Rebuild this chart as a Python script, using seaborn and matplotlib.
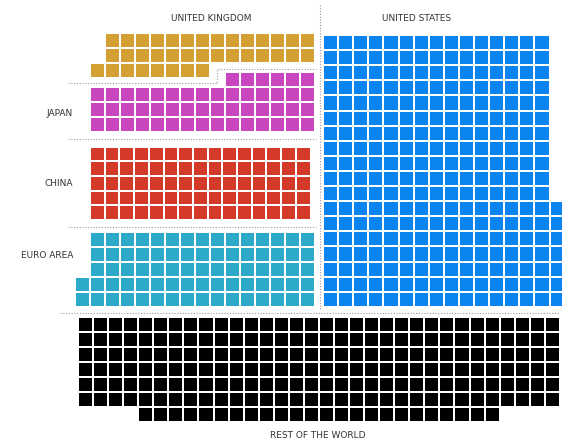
import numpy as np
import matplotlib
matplotlib.use("Agg")
import matplotlib.pyplot as plt
from matplotlib.colors import ListedColormap
import seaborn as sns

# ---- data ----
groups = ["UNITED KINGDOM", "JAPAN", "CHINA", "EURO AREA", "UNITED STATES", "REST OF THE WORLD"]
counts = [36, 51, 75, 77, 277, 216]
colors = ["#D4A033", "#C946BE", "#D33A2A", "#2BAACA", "#0A84F0", "#000000"]

# ---- layout (not data) ----
row_width = [14, 15, 15, 15, 15, 32]
extra_mode = ["row_bottom_outdent", "row_top_right", "none", "col_left_bottom",
              "col_right_bottom", "row_bottom_center"]
origin_px = [(90, 33), (90, 72), (90, 146.5), (75, 232), (323, 35), (78, 317)]
cell_px = [15.0, 15.0, 14.7, 15.0, 15.1, 15.06]

W, H = 562, 443


def waffle_matrix(count, width, mode):
    full, rem = divmod(count, width)
    if mode == "row_bottom_outdent":
        m = np.full((full + 1, width + 1), np.nan)
        m[:full, 1:] = 1
        m[full, :rem] = 1
    elif mode == "row_top_right":
        m = np.full((full + 1, width), np.nan)
        m[0, width - rem:] = 1
        m[1:, :] = 1
    elif mode == "col_left_bottom":
        m = np.full((full, width + 1), np.nan)
        m[:, 1:] = 1
        m[full - rem:, 0] = 1
    elif mode == "col_right_bottom":
        m = np.full((full, width + 1), np.nan)
        m[:, :width] = 1
        m[full - rem:, width] = 1
    elif mode == "row_bottom_center":
        m = np.full((full + 1, width), np.nan)
        m[:full, :] = 1
        pad = (width - rem) // 2
        m[full, pad:pad + rem] = 1
    else:
        m = np.ones((full, width))
    return m


sns.set_theme(style="white")
plt.rcParams["font.family"] = ["DejaVu Sans"]

fig = plt.figure(figsize=(W / 100, H / 100), dpi=100)
bg = fig.add_axes([0, 0, 1, 1])
bg.set_xlim(0, W)
bg.set_ylim(H, 0)
bg.set_axis_off()

for name, cnt, col, wd, mode, (x0, y0), c in zip(groups, counts, colors, row_width,
                                                  extra_mode, origin_px, cell_px):
    m = waffle_matrix(cnt, wd, mode)
    nr, nc = m.shape
    ax = fig.add_axes([x0 / W, 1 - (y0 + nr * c) / H, nc * c / W, nr * c / H])
    sns.heatmap(m, ax=ax, cmap=ListedColormap([col]), vmin=0, vmax=1, cbar=False,
                linewidths=1.1, linecolor="white", xticklabels=False, yticklabels=False)
    mesh = ax.collections[0]
    valid = ~np.isnan(m).ravel()
    ec = np.zeros((valid.size, 4))
    ec[:, :3] = 1.0
    ec[valid, 3] = 1.0
    mesh.set_edgecolor(ec)
    ax.patch.set_visible(False)
    ax.set_axis_off()

# dotted separators
dot = dict(color="#9a9a9a", lw=0.8, linestyle=(0, (1, 1.5)))
bg.plot([319.5, 319.5], [5, 309], **dot)
bg.plot([68, 217, 217, 316], [82.5, 82.5, 68.5, 68.5], **dot)
bg.plot([68, 316], [139, 139], **dot)
bg.plot([68, 316], [226.5, 226.5], **dot)
bg.plot([60, 560], [312.5, 312.5], **dot)

tk = dict(color="#333333", fontsize=6.5, va="center")
bg.text(211, 18, groups[0], ha="center", **tk)
bg.text(417, 18, groups[4], ha="center", **tk)
bg.text(73, 113, groups[1], ha="right", **tk)
bg.text(73, 184, groups[2], ha="right", **tk)
bg.text(73, 255, groups[3], ha="right", **tk)
bg.text(318, 436, groups[5], ha="center", **tk)

fig.savefig("out.png", dpi=100)
